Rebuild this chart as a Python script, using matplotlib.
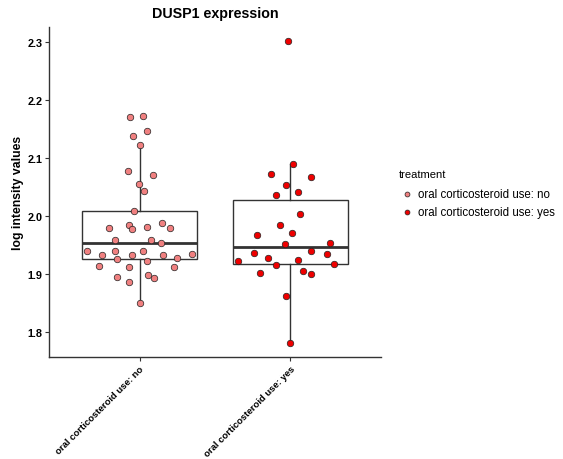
import numpy as np
import matplotlib.pyplot as plt

plt.rcParams['font.family'] = ['Liberation Sans', 'DejaVu Sans']

categories = ["oral corticosteroid use: no", "oral corticosteroid use: yes"]
colors = ["#F08080", "#EE0000"]

# log intensity values per group
no_vals = [2.170, 2.173, 2.147, 2.138, 2.123, 2.078, 2.071, 2.055, 2.043, 2.009,
           1.979, 1.984, 1.978, 1.982, 1.988, 1.979, 1.958, 1.959, 1.954, 1.940,
           1.933, 1.940, 1.933, 1.940, 1.933, 1.934, 1.926, 1.927, 1.922, 1.914,
           1.913, 1.913, 1.895, 1.899, 1.894, 1.887, 1.850]
no_jitter = [-0.062, 0.025, 0.049, -0.042, 0.0, -0.077, 0.087, -0.004, 0.031, -0.040,
             -0.200, -0.073, -0.047, 0.047, 0.149, 0.203, -0.162, 0.073, 0.145, -0.349,
             -0.249, -0.160, -0.051, 0.025, 0.153, 0.347, -0.147, 0.247, 0.047, -0.271,
             -0.073, 0.227, -0.151, 0.056, 0.096, -0.073, 0.0]

yes_vals = [2.301, 2.090, 2.072, 2.068, 2.054, 2.037, 2.041, 2.003, 1.985, 1.970,
            1.967, 1.952, 1.954, 1.940, 1.936, 1.934, 1.927, 1.924, 1.922, 1.915,
            1.917, 1.906, 1.901, 1.900, 1.862, 1.782]
yes_jitter = [-0.013, 0.020, -0.127, 0.133, -0.031, -0.095, 0.047, 0.060, -0.069, 0.013,
              -0.220, -0.038, 0.260, 0.138, -0.240, 0.242, -0.151, 0.049, -0.347, -0.093,
              0.289, 0.080, -0.205, 0.135, -0.029, 0.0]

# box statistics (q1, median, q3, whisker low, whisker high)
box_q1 = [1.926, 1.918]
box_med = [1.954, 1.947]
box_q3 = [2.008, 2.028]
box_lo = [1.850, 1.782]
box_hi = [2.123, 2.090]

fig = plt.figure(figsize=(5.63, 4.60), dpi=100)
ax = fig.add_axes([49/563, 1 - 358/460, 332/563, 330/460])

stats = []
for i in range(2):
    stats.append(dict(q1=box_q1[i], med=box_med[i], q3=box_q3[i],
                      whislo=box_lo[i], whishi=box_hi[i], fliers=[]))
ax.bxp(stats, positions=[1, 2], widths=0.76, showcaps=False, patch_artist=True,
       boxprops=dict(facecolor="none", edgecolor="#333333", linewidth=1.0),
       whiskerprops=dict(color="#333333", linewidth=1.0),
       medianprops=dict(color="#333333", linewidth=2.0), zorder=2)

groups = [(no_vals, no_jitter), (yes_vals, yes_jitter)]
for i, (vals, jit) in enumerate(groups):
    xs = np.array(jit) + i + 1
    ax.scatter(xs, vals, s=22, color=colors[i], edgecolor="#222222",
               linewidth=0.5, zorder=3, label=categories[i])

ax.set_xlim(0.4, 2.6)
ax.set_ylim(1.757, 2.326)
ax.set_yticks([1.8, 1.9, 2.0, 2.1, 2.2, 2.3])
ax.set_xticks([1, 2])
ax.set_xticklabels(categories, rotation=45, ha="right", rotation_mode="anchor")
for lab in ax.get_xticklabels():
    lab.set_fontweight("bold")
    lab.set_fontsize(6.8)
for lab in ax.get_yticklabels():
    lab.set_fontweight("bold")
    lab.set_fontsize(7.8)
ax.tick_params(length=3, color="#333333", width=0.8, pad=2)
ax.tick_params(axis="y", pad=1.5)
for s in ["top", "right"]:
    ax.spines[s].set_visible(False)
for s in ["left", "bottom"]:
    ax.spines[s].set_color("#333333")
    ax.spines[s].set_linewidth(1.0)

ax.set_ylabel("log intensity values", fontsize=8.8, fontweight="bold", labelpad=3)
ax.set_title("DUSP1 expression", fontsize=10.3, fontweight="bold", pad=7)

leg = fig.legend(loc="upper left", bbox_to_anchor=(0.69, 0.652), frameon=False,
                 title="treatment", fontsize=8.3, title_fontsize=8.0,
                 markerscale=0.75, handletextpad=0.3, labelspacing=0.5,
                 handlelength=1.4)
leg._legend_box.align = "left"
leg._legend_box.sep = 6

fig.savefig("out.png", dpi=100)
